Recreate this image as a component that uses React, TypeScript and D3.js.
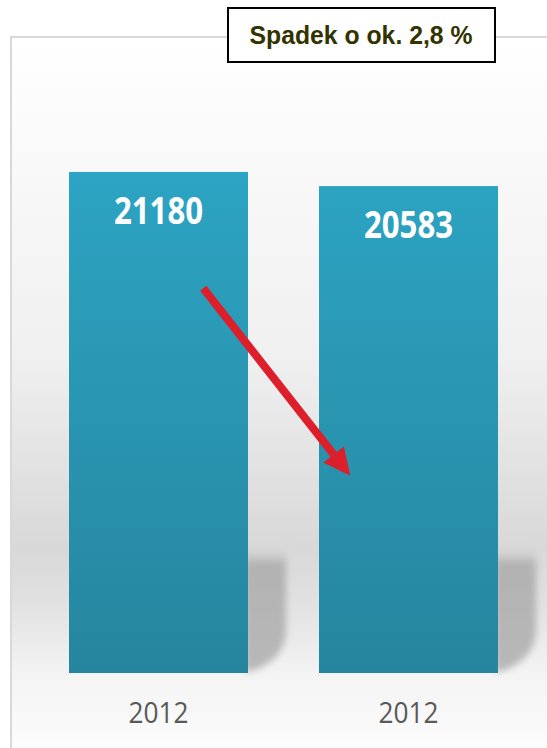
import React from 'react';
import * as d3 from 'd3';

// chart values
const categories = ['2012', '2012'];
const values = [21180, 20583];
const annotation = 'Spadek o ok. 2,8 %';

const W = 547;
const H = 748;
const baseY = 673;

const App = () => {
    const idx = d3.range(values.length);

    const x = d3.scaleBand<number>()
        .domain(idx)
        .range([14, 553])
        .paddingInner(0.284)
        .paddingOuter(0.22);

    // zero sits on the floor line, 25000 near the top of the wall
    const y = d3.scaleLinear()
        .domain([0, 25000])
        .range([baseY, 81.6]);

    const bw = x.bandwidth();

    // arrow goes from inside bar 1 down into bar 2
    const x0 = (x(0) as number) + bw * 0.75;
    const y0 = y(values[0] * 0.768);
    const x1 = (x(1) as number) + bw * 0.175;
    const y1 = y(values[1] * 0.405);
    const ang = Math.atan2(y1 - y0, x1 - x0);
    const headLen = 27;
    const headW = 13;
    const bx = x1 - headLen * Math.cos(ang);
    const by = y1 - headLen * Math.sin(ang);
    const nx = -Math.sin(ang);
    const ny = Math.cos(ang);
    const head = `M${x1},${y1}L${bx + nx * headW},${by + ny * headW}L${bx - nx * headW},${by - ny * headW}Z`;

    return (
        <svg width={W} height={H} style={{ position: 'absolute', left: 0, top: 0 }}>
            <defs>
                <linearGradient id="bg" x1="0" y1="36" x2="0" y2={H} gradientUnits="userSpaceOnUse">
                    <stop offset="0" stopColor="#ffffff" />
                    <stop offset="0.45" stopColor="#f0f0f0" />
                    <stop offset="0.72" stopColor="#d8d8d8" />
                    <stop offset="0.8" stopColor="#e2e2e2" />
                    <stop offset="0.9" stopColor="#f4f4f4" />
                    <stop offset="1" stopColor="#fcfcfc" />
                </linearGradient>
                <linearGradient id="bar" x1="0" y1={y(values[0])} x2="0" y2={baseY} gradientUnits="userSpaceOnUse">
                    <stop offset="0" stopColor="#2ca4c3" />
                    <stop offset="1" stopColor="#26859e" />
                </linearGradient>
                <linearGradient id="shadow" x1="0" y1="0" x2="0" y2="1">
                    <stop offset="0" stopColor="#d8d8d8" stopOpacity="0" />
                    <stop offset="0.14" stopColor="#b2b2b2" />
                    <stop offset="1" stopColor="#b8b8b8" />
                </linearGradient>
                <filter id="blur" x="-30%" y="-30%" width="160%" height="160%">
                    <feGaussianBlur stdDeviation="3.5" />
                </filter>
            </defs>

            {/* plot background with wall and floor */}
            <rect x={10} y={36} width={W - 10} height={H - 36} fill="url(#bg)" />
            <path d={`M11,${H}V37H${W}`} fill="none" stroke="#d9d9d9" strokeWidth={2} />

            {/* shadows behind the bars */}
            {idx.map(i => {
                const r = (x(i) as number) + bw;
                return (
                    <path
                        key={'s' + i}
                        d={`M${r - 4},546H${r + 38}V632Q${r + 36},660 ${r + 4},${baseY - 2}H${r - 4}Z`}
                        fill="url(#shadow)"
                        filter="url(#blur)"
                    />
                );
            })}

            {/* bars */}
            {idx.map(i => (
                <rect
                    key={'b' + i}
                    x={x(i)}
                    y={y(values[i])}
                    width={bw}
                    height={baseY - y(values[i])}
                    fill="url(#bar)"
                />
            ))}

            {/* value labels */}
            {idx.map(i => (
                <text
                    key={'v' + i}
                    x={(x(i) as number) + bw / 2}
                    y={y(values[i]) + 52}
                    textAnchor="middle"
                    fill="#ffffff"
                    fontFamily="'Open Sans', sans-serif"
                    fontWeight="bold"
                    fontSize={37}
                    textLength={89}
                    lengthAdjust="spacingAndGlyphs"
                >
                    {values[i]}
                </text>
            ))}

            {/* category labels */}
            {idx.map(i => (
                <text
                    key={'c' + i}
                    x={(x(i) as number) + bw / 2}
                    y={723}
                    textAnchor="middle"
                    fill="#595959"
                    fontFamily="'Open Sans', sans-serif"
                    fontSize={29}
                    textLength={60}
                    lengthAdjust="spacingAndGlyphs"
                >
                    {categories[i]}
                </text>
            ))}

            {/* red arrow */}
            <line x1={x0} y1={y0} x2={bx} y2={by} stroke="#dc1f2b" strokeWidth={8} />
            <path d={head} fill="#dc1f2b" />

            {/* annotation box */}
            <rect x={228} y={8} width={267} height={54} fill="#ffffff" stroke="#000000" strokeWidth={2} />
            <text
                x={361}
                y={44}
                textAnchor="middle"
                fill="#333300"
                fontFamily="'Liberation Sans', Arial, sans-serif"
                fontWeight="bold"
                fontSize={25}
                textLength={223}
                lengthAdjust="spacingAndGlyphs"
            >
                {annotation}
            </text>
        </svg>
    );
};

export default App;
